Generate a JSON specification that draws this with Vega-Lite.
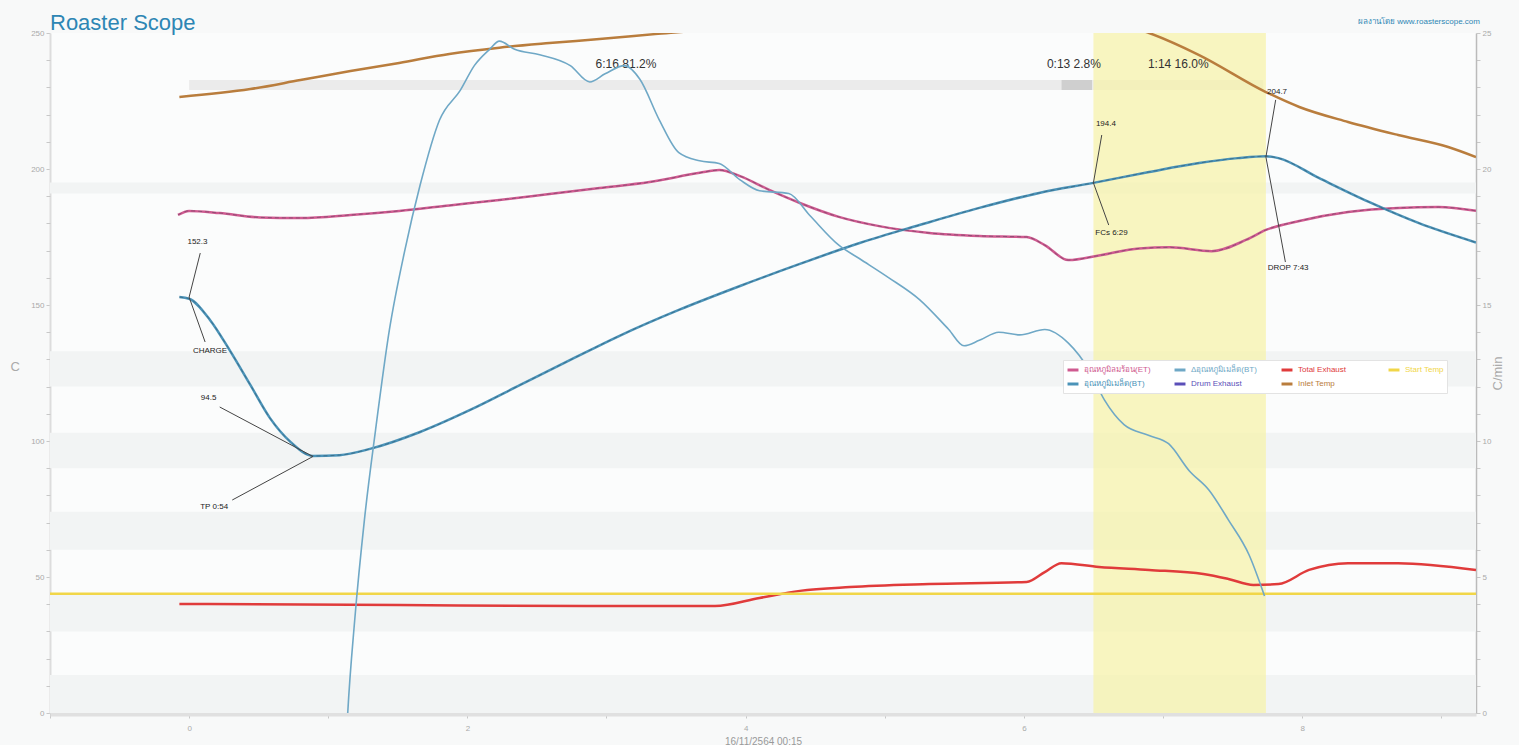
{
  "$schema": "https://vega.github.io/schema/vega-lite/v6.json",
  "width": 1426,
  "height": 680,
  "autosize": {"type": "none"},
  "padding": {"left": 50, "top": 33, "right": 43, "bottom": 32},
  "background": "#f8f9f9",
  "view": {"fill": "#fbfcfc", "stroke": null},
  "config": {"font": "Liberation Sans, Noto Sans, sans-serif", "axis": {"labelOverlap": false}},
  "title": {"text": "Roaster Scope", "anchor": "start", "frame": "group", "fontSize": 22, "fontWeight": "normal", "color": "#2d86b4", "offset": -17},
  "datasets": {
    "stripes": [
      {"lo": 191, "hi": 195}, {"lo": 120, "hi": 133}, {"lo": 90, "hi": 103}, {"lo": 60, "hi": 74}, {"lo": 30, "hi": 44}, {"lo": 0, "hi": 14}
    ],
    "phases": [
      {"a": 0, "b": 6.27, "c": "drying"},
      {"a": 6.27, "b": 6.49, "c": "maillard"},
      {"a": 6.49, "b": 7.72, "c": "dev"}
    ],
    "phaseText": [
      {"t": 3.14, "v": 238.6, "label": "6:16  81.2%"},
      {"t": 6.36, "v": 238.6, "label": "0:13  2.8%"},
      {"t": 7.11, "v": 238.6, "label": "1:14  16.0%"}
    ],
    "band": [{"a": 6.5, "b": 7.74}],
    "lines": [
      {"s": "อุณหภูมิลมร้อน(ET)", "t": -0.08, "v": 183.1},
      {"s": "อุณหภูมิลมร้อน(ET)", "t": 0.0, "v": 184.6},
      {"s": "อุณหภูมิลมร้อน(ET)", "t": 0.22, "v": 183.8},
      {"s": "อุณหภูมิลมร้อน(ET)", "t": 0.51, "v": 182.2},
      {"s": "อุณหภูมิลมร้อน(ET)", "t": 0.8, "v": 182.0},
      {"s": "อุณหภูมิลมร้อน(ET)", "t": 1.16, "v": 183.1},
      {"s": "อุณหภูมิลมร้อน(ET)", "t": 1.51, "v": 184.6},
      {"s": "อุณหภูมิลมร้อน(ET)", "t": 1.87, "v": 186.6},
      {"s": "อุณหภูมิลมร้อน(ET)", "t": 2.23, "v": 188.6},
      {"s": "อุณหภูมิลมร้อน(ET)", "t": 2.59, "v": 190.8},
      {"s": "อุณหภูมิลมร้อน(ET)", "t": 2.95, "v": 193.0},
      {"s": "อุณหภูมิลมร้อน(ET)", "t": 3.31, "v": 195.2},
      {"s": "อุณหภูมิลมร้อน(ET)", "t": 3.67, "v": 198.6},
      {"s": "อุณหภูมิลมร้อน(ET)", "t": 3.81, "v": 199.6},
      {"s": "อุณหภูมิลมร้อน(ET)", "t": 3.96, "v": 197.4},
      {"s": "อุณหภูมิลมร้อน(ET)", "t": 4.17, "v": 192.3},
      {"s": "อุณหภูมิลมร้อน(ET)", "t": 4.39, "v": 187.5},
      {"s": "อุณหภูมิลมร้อน(ET)", "t": 4.67, "v": 182.4},
      {"s": "อุณหภูมิลมร้อน(ET)", "t": 4.96, "v": 179.0},
      {"s": "อุณหภูมิลมร้อน(ET)", "t": 5.32, "v": 176.5},
      {"s": "อุณหภูมิลมร้อน(ET)", "t": 5.68, "v": 175.4},
      {"s": "อุณหภูมิลมร้อน(ET)", "t": 6.02, "v": 175.0},
      {"s": "อุณหภูมิลมร้อน(ET)", "t": 6.15, "v": 172.0},
      {"s": "อุณหภูมิลมร้อน(ET)", "t": 6.32, "v": 166.5},
      {"s": "อุณหภูมิลมร้อน(ET)", "t": 6.54, "v": 168.2},
      {"s": "อุณหภูมิลมร้อน(ET)", "t": 6.83, "v": 170.8},
      {"s": "อุณหภูมิลมร้อน(ET)", "t": 7.05, "v": 171.2},
      {"s": "อุณหภูมิลมร้อน(ET)", "t": 7.35, "v": 169.8},
      {"s": "อุณหภูมิลมร้อน(ET)", "t": 7.6, "v": 174.0},
      {"s": "อุณหภูมิลมร้อน(ET)", "t": 7.74, "v": 177.6},
      {"s": "อุณหภูมิลมร้อน(ET)", "t": 7.98, "v": 180.9},
      {"s": "อุณหภูมิลมร้อน(ET)", "t": 8.33, "v": 184.2},
      {"s": "อุณหภูมิลมร้อน(ET)", "t": 8.69, "v": 185.7},
      {"s": "อุณหภูมิลมร้อน(ET)", "t": 8.98, "v": 186.0},
      {"s": "อุณหภูมิลมร้อน(ET)", "t": 9.25, "v": 184.6},

      {"s": "อุณหภูมิเมล็ด(BT)", "t": -0.07, "v": 152.9},
      {"s": "อุณหภูมิเมล็ด(BT)", "t": 0.0, "v": 152.3},
      {"s": "อุณหภูมิเมล็ด(BT)", "t": 0.15, "v": 144.5},
      {"s": "อุณหภูมิเมล็ด(BT)", "t": 0.29, "v": 133.5},
      {"s": "อุณหภูมิเมล็ด(BT)", "t": 0.44, "v": 120.6},
      {"s": "อุณหภูมิเมล็ด(BT)", "t": 0.58, "v": 108.5},
      {"s": "อุณหภูมิเมล็ด(BT)", "t": 0.73, "v": 99.6},
      {"s": "อุณหภูมิเมล็ด(BT)", "t": 0.89, "v": 94.5},
      {"s": "อุณหภูมิเมล็ด(BT)", "t": 1.08, "v": 94.8},
      {"s": "อุณหภูมิเมล็ด(BT)", "t": 1.3, "v": 97.1},
      {"s": "อุณหภูมิเมล็ด(BT)", "t": 1.66, "v": 103.3},
      {"s": "อุณหภูมิเมล็ด(BT)", "t": 2.02, "v": 111.4},
      {"s": "อุณหภูมิเมล็ด(BT)", "t": 2.38, "v": 120.6},
      {"s": "อุณหภูมิเมล็ด(BT)", "t": 2.74, "v": 129.8},
      {"s": "อุณหภูมิเมล็ด(BT)", "t": 3.09, "v": 138.6},
      {"s": "อุณหภูมิเมล็ด(BT)", "t": 3.52, "v": 148.2},
      {"s": "อุณหภูมิเมล็ด(BT)", "t": 3.96, "v": 157.0},
      {"s": "อุณหภูมิเมล็ด(BT)", "t": 4.39, "v": 165.1},
      {"s": "อุณหภูมิเมล็ด(BT)", "t": 4.82, "v": 172.8},
      {"s": "อุณหภูมิเมล็ด(BT)", "t": 5.25, "v": 179.4},
      {"s": "อุณหภูมิเมล็ด(BT)", "t": 5.68, "v": 185.7},
      {"s": "อุณหภูมิเมล็ด(BT)", "t": 6.11, "v": 191.2},
      {"s": "อุณหภูมิเมล็ด(BT)", "t": 6.5, "v": 194.9},
      {"s": "อุณหภูมิเมล็ด(BT)", "t": 6.9, "v": 198.9},
      {"s": "อุณหภูมิเมล็ด(BT)", "t": 7.26, "v": 202.2},
      {"s": "อุณหภูมิเมล็ด(BT)", "t": 7.54, "v": 204.0},
      {"s": "อุณหภูมิเมล็ด(BT)", "t": 7.74, "v": 204.7},
      {"s": "อุณหภูมิเมล็ด(BT)", "t": 7.83, "v": 204.0},
      {"s": "อุณหภูมิเมล็ด(BT)", "t": 8.12, "v": 196.7},
      {"s": "อุณหภูมิเมล็ด(BT)", "t": 8.48, "v": 187.9},
      {"s": "อุณหภูมิเมล็ด(BT)", "t": 8.84, "v": 180.1},
      {"s": "อุณหภูมิเมล็ด(BT)", "t": 9.25, "v": 173.0},

      {"s": "Total Exhaust", "t": -0.07, "v": 40.1},
      {"s": "Total Exhaust", "t": 1.51, "v": 39.7},
      {"s": "Total Exhaust", "t": 2.95, "v": 39.3},
      {"s": "Total Exhaust", "t": 3.78, "v": 39.3},
      {"s": "Total Exhaust", "t": 4.1, "v": 42.3},
      {"s": "Total Exhaust", "t": 4.39, "v": 44.9},
      {"s": "Total Exhaust", "t": 4.75, "v": 46.3},
      {"s": "Total Exhaust", "t": 5.32, "v": 47.4},
      {"s": "Total Exhaust", "t": 6.02, "v": 48.2},
      {"s": "Total Exhaust", "t": 6.15, "v": 51.8},
      {"s": "Total Exhaust", "t": 6.27, "v": 55.1},
      {"s": "Total Exhaust", "t": 6.54, "v": 53.7},
      {"s": "Total Exhaust", "t": 6.9, "v": 52.6},
      {"s": "Total Exhaust", "t": 7.29, "v": 51.1},
      {"s": "Total Exhaust", "t": 7.47, "v": 49.3},
      {"s": "Total Exhaust", "t": 7.65, "v": 47.1},
      {"s": "Total Exhaust", "t": 7.83, "v": 47.4},
      {"s": "Total Exhaust", "t": 8.05, "v": 52.6},
      {"s": "Total Exhaust", "t": 8.33, "v": 55.1},
      {"s": "Total Exhaust", "t": 8.69, "v": 55.1},
      {"s": "Total Exhaust", "t": 9.25, "v": 52.6},

      {"s": "Start Temp", "t": -1.0, "v": 43.8},
      {"s": "Start Temp", "t": 9.25, "v": 43.8},

      {"s": "Inlet Temp", "t": -0.07, "v": 226.5},
      {"s": "Inlet Temp", "t": 0.44, "v": 229.4},
      {"s": "Inlet Temp", "t": 0.8, "v": 232.7},
      {"s": "Inlet Temp", "t": 1.16, "v": 236.0},
      {"s": "Inlet Temp", "t": 1.51, "v": 239.0},
      {"s": "Inlet Temp", "t": 1.87, "v": 242.3},
      {"s": "Inlet Temp", "t": 2.23, "v": 244.6},
      {"s": "Inlet Temp", "t": 2.59, "v": 246.3},
      {"s": "Inlet Temp", "t": 2.95, "v": 247.8},
      {"s": "Inlet Temp", "t": 3.35, "v": 249.6},
      {"s": "Inlet Temp", "t": 3.67, "v": 251.0},
      {"s": "Inlet Temp", "t": 4.39, "v": 256.0},
      {"s": "Inlet Temp", "t": 5.1, "v": 259.0},
      {"s": "Inlet Temp", "t": 5.82, "v": 260.0},
      {"s": "Inlet Temp", "t": 6.54, "v": 255.0},
      {"s": "Inlet Temp", "t": 6.9, "v": 250.0},
      {"s": "Inlet Temp", "t": 7.26, "v": 241.9},
      {"s": "Inlet Temp", "t": 7.74, "v": 228.3},
      {"s": "Inlet Temp", "t": 7.98, "v": 222.8},
      {"s": "Inlet Temp", "t": 8.33, "v": 217.3},
      {"s": "Inlet Temp", "t": 8.69, "v": 212.5},
      {"s": "Inlet Temp", "t": 9.05, "v": 208.1},
      {"s": "Inlet Temp", "t": 9.25, "v": 204.4}
    ],
    "ror": [
      {"s": "Δอุณหภูมิเมล็ด(BT)", "t": 1.12, "v": -2.0},
      {"s": "Δอุณหภูมิเมล็ด(BT)", "t": 1.14, "v": 0.0},
      {"s": "Δอุณหภูมิเมล็ด(BT)", "t": 1.19, "v": 3.4},
      {"s": "Δอุณหภูมิเมล็ด(BT)", "t": 1.26, "v": 7.1},
      {"s": "Δอุณหภูมิเมล็ด(BT)", "t": 1.34, "v": 10.4},
      {"s": "Δอุณหภูมิเมล็ด(BT)", "t": 1.44, "v": 14.1},
      {"s": "Δอุณหภูมิเมล็ด(BT)", "t": 1.55, "v": 17.0},
      {"s": "Δอุณหภูมิเมล็ด(BT)", "t": 1.66, "v": 19.4},
      {"s": "Δอุณหภูมิเมล็ด(BT)", "t": 1.8, "v": 21.8},
      {"s": "Δอุณหภูมิเมล็ด(BT)", "t": 1.95, "v": 22.9},
      {"s": "Δอุณหภูมิเมล็ด(BT)", "t": 2.05, "v": 23.8},
      {"s": "Δอุณหภูมิเมล็ด(BT)", "t": 2.16, "v": 24.4},
      {"s": "Δอุณหภูมิเมล็ด(BT)", "t": 2.23, "v": 24.7},
      {"s": "Δอุณหภูมิเมล็ด(BT)", "t": 2.34, "v": 24.4},
      {"s": "Δอุณหภูมิเมล็ด(BT)", "t": 2.52, "v": 24.2},
      {"s": "Δอุณหภูมิเมล็ด(BT)", "t": 2.74, "v": 23.8},
      {"s": "Δอุณหภูมิเมล็ด(BT)", "t": 2.88, "v": 23.2},
      {"s": "Δอุณหภูมิเมล็ด(BT)", "t": 2.99, "v": 23.5},
      {"s": "Δอุณหภูมิเมล็ด(BT)", "t": 3.13, "v": 23.8},
      {"s": "Δอุณหภูมิเมล็ด(BT)", "t": 3.24, "v": 23.3},
      {"s": "Δอุณหภูมิเมล็ด(BT)", "t": 3.38, "v": 21.8},
      {"s": "Δอุณหภูมิเมล็ด(BT)", "t": 3.52, "v": 20.6},
      {"s": "Δอุณหภูมิเมล็ด(BT)", "t": 3.67, "v": 20.3},
      {"s": "Δอุณหภูมิเมล็ด(BT)", "t": 3.81, "v": 20.2},
      {"s": "Δอุณหภูมิเมล็ด(BT)", "t": 3.96, "v": 19.6},
      {"s": "Δอุณหภูมิเมล็ด(BT)", "t": 4.1, "v": 19.2},
      {"s": "Δอุณหภูมิเมล็ด(BT)", "t": 4.31, "v": 19.1},
      {"s": "Δอุณหภูมิเมล็ด(BT)", "t": 4.46, "v": 18.3},
      {"s": "Δอุณหภูมิเมล็ด(BT)", "t": 4.67, "v": 17.2},
      {"s": "Δอุณหภูมิเมล็ด(BT)", "t": 4.82, "v": 16.7},
      {"s": "Δอุณหภูมิเมล็ด(BT)", "t": 5.03, "v": 16.0},
      {"s": "Δอุณหภูมิเมล็ด(BT)", "t": 5.25, "v": 15.2},
      {"s": "Δอุณหภูมิเมล็ด(BT)", "t": 5.46, "v": 14.1},
      {"s": "Δอุณหภูมิเมล็ด(BT)", "t": 5.57, "v": 13.5},
      {"s": "Δอุณหภูมิเมล็ด(BT)", "t": 5.68, "v": 13.7},
      {"s": "Δอุณหภูมิเมล็ด(BT)", "t": 5.82, "v": 14.0},
      {"s": "Δอุณหภูมิเมล็ด(BT)", "t": 5.97, "v": 13.9},
      {"s": "Δอุณหภูมิเมล็ด(BT)", "t": 6.15, "v": 14.1},
      {"s": "Δอุณหภูมิเมล็ด(BT)", "t": 6.32, "v": 13.6},
      {"s": "Δอุณหภูมิเมล็ด(BT)", "t": 6.47, "v": 12.6},
      {"s": "Δอุณหภูมิเมล็ด(BT)", "t": 6.58, "v": 11.5},
      {"s": "Δอุณหภูมิเมล็ด(BT)", "t": 6.72, "v": 10.6},
      {"s": "Δอุณหภูมิเมล็ด(BT)", "t": 6.9, "v": 10.2},
      {"s": "Δอุณหภูมิเมล็ด(BT)", "t": 7.04, "v": 9.9},
      {"s": "Δอุณหภูมิเมล็ด(BT)", "t": 7.19, "v": 8.9},
      {"s": "Δอุณหภูมิเมล็ด(BT)", "t": 7.33, "v": 8.2},
      {"s": "Δอุณหภูมิเมล็ด(BT)", "t": 7.47, "v": 7.1},
      {"s": "Δอุณหภูมิเมล็ด(BT)", "t": 7.62, "v": 5.8},
      {"s": "Δอุณหภูมิเมล็ด(BT)", "t": 7.73, "v": 4.3}
    ],
    "annoLines": [
      {"t": 0.0, "v": 152.9, "t2": 0.08, "v2": 169.1},
      {"t": 0.0, "v": 152.9, "t2": 0.115, "v2": 136.4},
      {"t": 0.89, "v": 94.3, "t2": 0.22, "v2": 112.5},
      {"t": 0.89, "v": 94.3, "t2": 0.31, "v2": 78.3},
      {"t": 6.5, "v": 194.9, "t2": 6.56, "v2": 212.5},
      {"t": 6.5, "v": 194.9, "t2": 6.61, "v2": 179.4},
      {"t": 7.74, "v": 204.4, "t2": 7.81, "v2": 225.4},
      {"t": 7.74, "v": 204.4, "t2": 7.88, "v2": 165.8}
    ],
    "annoText": [
      {"t": 0.06, "v": 173.2, "label": "152.3"},
      {"t": 0.15, "v": 133.1, "label": "CHARGE"},
      {"t": 0.14, "v": 115.8, "label": "94.5"},
      {"t": 0.18, "v": 75.7, "label": "TP 0:54"},
      {"t": 6.59, "v": 216.5, "label": "194.4"},
      {"t": 6.63, "v": 176.5, "label": "FCs 6:29"},
      {"t": 7.82, "v": 228.3, "label": "204.7"},
      {"t": 7.9, "v": 163.6, "label": "DROP 7:43"}
    ],
    "credit": [{"t": 8.84, "v": 254.0, "label": "ผลงานโดย www.roasterscope.com"}]
  },
  "layer": [
    {
      "resolve": {"axis": {"y": "independent"}},
      "layer": [
        {
          "data": {"name": "stripes"},
          "mark": {"type": "rect", "color": "#f2f4f4"},
          "encoding": {
            "y": {"field": "lo", "type": "quantitative", "scale": {"domain": [0, 250], "nice": false},
              "axis": {"orient": "left", "title": "C", "titleColor": "#aaaaaa", "titleFontSize": 13, "titleFontWeight": "normal", "titlePadding": 16, "titleAngle": 0,
                "values": [0, 50, 100, 150, 200, 250], "format": "d",
                "labelOverlap": false, "labelBound": false, "labelFlush": false,
                "labelColor": "#aaaaaa", "labelFontSize": 8, "tickColor": "#c8c8c8", "tickSize": 4, "domainColor": "#dddddd", "domainWidth": 2, "grid": false}},
            "y2": {"field": "hi"}
          }
        },
        {
          "data": {"name": "phases"},
          "mark": {"type": "rect"},
          "encoding": {
            "x": {"field": "a", "type": "quantitative", "scale": {"domain": [-1, 9.25], "nice": false, "zero": false},
              "axis": {"title": "16/11/2564  00:15", "titleColor": "#999999", "titleFontSize": 10, "titleFontWeight": "normal", "titlePadding": 4,
                "values": [-1,0,1,2,3,4,5,6,7,8,9],
                "labelExpr": "datum.value >= 0 && datum.value % 2 === 0 ? '' + datum.value : ''",
                "labelOverlap": false,
                "labelColor": "#aaaaaa", "labelFontSize": 8, "tickColor": "#c8c8c8", "tickSize": 5, "domainColor": "#e0e0e0", "domainWidth": 6, "grid": false, "labelPadding": 6}},
            "x2": {"field": "b"},
            "y": {"datum": 229, "type": "quantitative",
              "axis": {"orient": "left", "title": null, "labels": false, "domain": false, "grid": false, "tickColor": "#c8c8c8", "tickSize": 4,
                "values": [10,20,30,40,60,70,80,90,110,120,130,140,160,170,180,190,210,220,230,240]}},
            "y2": {"datum": 232.7},
            "fill": {"field": "c", "type": "nominal", "scale": {"domain": ["drying", "maillard", "dev"], "range": ["#ebebeb", "#cfcfcf", "#ebebeb"]}, "legend": null}
          }
        },
        {
          "data": {"name": "band"},
          "mark": {"type": "rect", "color": "#f7f2a6", "opacity": 0.7},
          "encoding": {
            "x": {"field": "a", "type": "quantitative"},
            "x2": {"field": "b"}
          }
        },
        {
          "data": {"name": "phaseText"},
          "mark": {"type": "text", "fontSize": 12, "color": "#333333"},
          "encoding": {
            "x": {"field": "t", "type": "quantitative"},
            "y": {"field": "v", "type": "quantitative", "axis": null},
            "text": {"field": "label"}
          }
        },
        {
          "data": {"name": "lines"},
          "mark": {"type": "line", "strokeWidth": 2.5, "clip": true, "interpolate": "monotone"},
          "encoding": {
            "x": {"field": "t", "type": "quantitative"},
            "y": {"field": "v", "type": "quantitative", "axis": null},
            "color": {"field": "s", "type": "nominal",
              "scale": {"domain": ["อุณหภูมิลมร้อน(ET)", "Δอุณหภูมิเมล็ด(BT)", "Total Exhaust", "Start Temp", "อุณหภูมิเมล็ด(BT)", "Drum Exhaust", "Inlet Temp"],
                "range": ["#cf5a90", "#6fa8c6", "#e03b3b", "#f1d648", "#4b93b8", "#5a4fb8", "#b97d3d"]},
              "legend": {"orient": "none", "legendX": 1013, "legendY": 327, "title": null, "columns": 4, "direction": "horizontal",
                "fillColor": "#ffffff", "strokeColor": "#e3e3e3", "padding": 3, "symbolType": "stroke", "symbolStrokeWidth": 3, "symbolSize": 120,
                "labelFontSize": 8, "labelLimit": 120, "columnPadding": 17, "rowPadding": 1, "gridAlign": "all",
                "encode": {"labels": {"update": {"fill": {"scale": "color", "field": "value"}}}}}}
          }
        },
        {
          "data": {"name": "lines"},
          "transform": [{"filter": "datum.s === 'อุณหภูมิลมร้อน(ET)' || datum.s === 'อุณหภูมิเมล็ด(BT)'"}],
          "mark": {"type": "line", "strokeWidth": 1, "strokeDash": [4, 3], "stroke": "#203040", "opacity": 0.35, "clip": true, "interpolate": "monotone"},
          "encoding": {
            "x": {"field": "t", "type": "quantitative"},
            "y": {"field": "v", "type": "quantitative", "axis": null},
            "detail": {"field": "s"}
          }
        },
        {
          "data": {"name": "annoLines"},
          "mark": {"type": "rule", "color": "#444444", "strokeWidth": 1},
          "encoding": {
            "x": {"field": "t", "type": "quantitative"},
            "y": {"field": "v", "type": "quantitative", "axis": null},
            "x2": {"field": "t2"},
            "y2": {"field": "v2"}
          }
        },
        {
          "data": {"name": "annoText"},
          "mark": {"type": "text", "fontSize": 8, "color": "#222222"},
          "encoding": {
            "x": {"field": "t", "type": "quantitative"},
            "y": {"field": "v", "type": "quantitative", "axis": null},
            "text": {"field": "label"}
          }
        },
        {
          "data": {"name": "credit"},
          "mark": {"type": "text", "fontSize": 8, "color": "#2d86b4"},
          "encoding": {
            "x": {"field": "t", "type": "quantitative"},
            "y": {"field": "v", "type": "quantitative", "axis": null},
            "text": {"field": "label"}
          }
        }
      ]
    },
    {
      "data": {"name": "ror"},
      "mark": {"type": "line", "strokeWidth": 1.6, "clip": true, "interpolate": "monotone"},
      "encoding": {
        "x": {"field": "t", "type": "quantitative"},
        "y": {"field": "v", "type": "quantitative", "scale": {"domain": [0, 25], "nice": false},
          "axis": {"orient": "right", "title": "C/min", "titleColor": "#aaaaaa", "titleFontSize": 13, "titleFontWeight": "normal", "titleAngle": 270, "titlePadding": 14,
            "values": [0,1,2,3,4,5,6,7,8,9,10,11,12,13,14,15,16,17,18,19,20,21,22,23,24,25],
            "labelExpr": "datum.value % 5 === 0 ? '' + datum.value : ''",
            "labelOverlap": false,
            "labelColor": "#aaaaaa", "labelFontSize": 8, "tickColor": "#c8c8c8", "tickSize": 4, "domainColor": "#bbbbbb", "domainWidth": 1.5, "grid": false}},
        "color": {"field": "s", "type": "nominal"}
      }
    }
  ],
  "resolve": {"scale": {"y": "independent"}}
}
